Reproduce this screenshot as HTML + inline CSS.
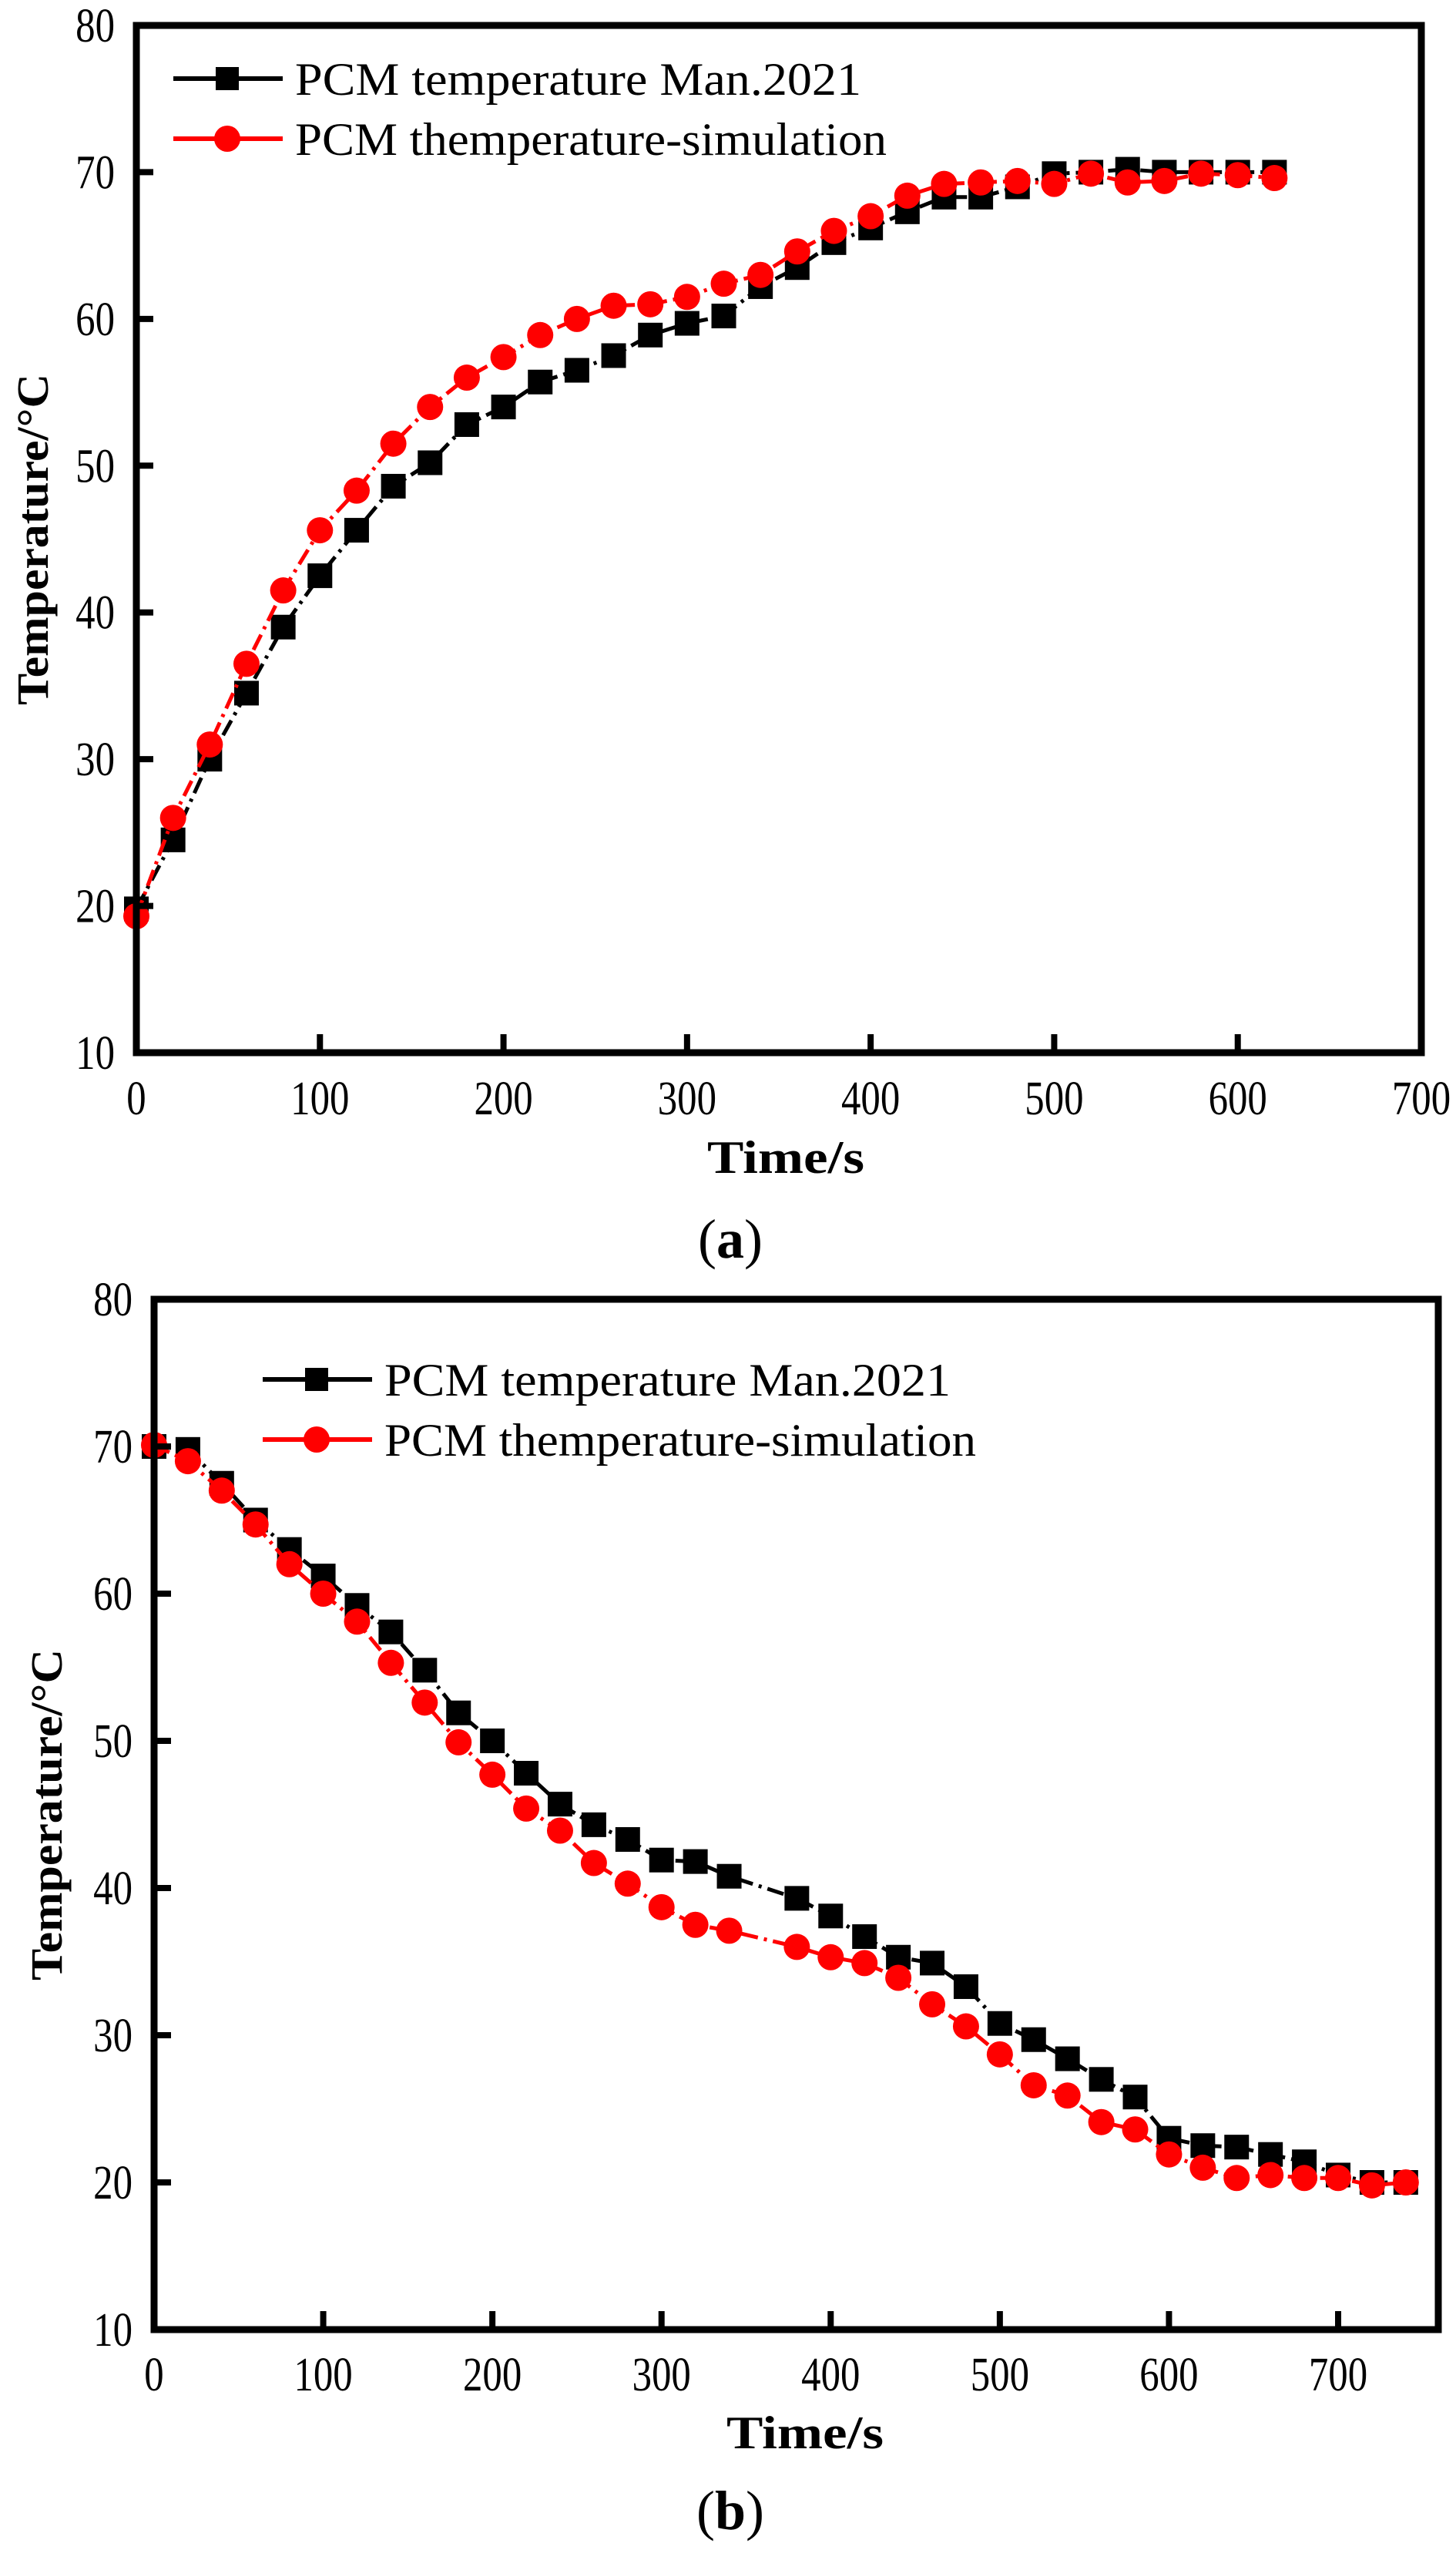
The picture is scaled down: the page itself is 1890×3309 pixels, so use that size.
<!DOCTYPE html>
<html><head><meta charset="utf-8"><style>
html,body{margin:0;padding:0;background:#fff}
svg{display:block}
text{font-family:"Liberation Serif",serif}
</style></head><body>
<svg id="s" width="1890" height="3309" viewBox="0 0 1890 3309"></svg>
<script>
const xsA=[0,20,40,60,80,100,120,140,160,180,200,220,240,260,280,300,320,340,360,380,400,420,440,460,480,500,520,540,560,580,600,620];
const blackA=[19.8,24.5,30,34.5,39,42.5,45.6,48.6,50.2,52.8,54,55.7,56.5,57.5,58.9,59.7,60.2,62.2,63.5,65.2,66.2,67.3,68.3,68.3,69,69.9,70,70.2,70,70,70,70];
const redA=[19.3,26,31,36.5,41.5,45.6,48.3,51.5,54,56,57.4,58.9,60,60.9,61,61.5,62.4,63,64.6,66,67,68.4,69.2,69.3,69.4,69.2,69.9,69.3,69.4,69.9,69.8,69.6];
const xsB=[0,20,40,60,80,100,120,140,160,180,200,220,240,260,280,300,320,340,380,400,420,440,460,480,500,520,540,560,580,600,620,640,660,680,700,720,740];
const blackB=[70,69.8,67.5,65,63,61.2,59.2,57.4,54.8,51.9,50,47.8,45.7,44.3,43.3,41.9,41.8,40.8,39.3,38.1,36.7,35.3,34.9,33.3,30.8,29.7,28.4,27,25.8,23,22.5,22.4,21.9,21.4,20.5,20,20];
const redB=[70.1,69,67,64.7,62,60,58.1,55.3,52.6,49.9,47.7,45.4,43.9,41.7,40.3,38.7,37.5,37.1,36,35.3,34.9,33.9,32.1,30.6,28.7,26.6,25.9,24.1,23.6,21.9,21,20.3,20.5,20.3,20.3,19.8,20];
const yTicks=[10,20,30,40,50,60,70,80];
const xTicks=[0,100,200,300,400,500,600,700];
const legendLabels=["PCM temperature  Man.2021","PCM themperature-simulation"];

const NS="http://www.w3.org/2000/svg";
const svg=document.getElementById('s');
function mk(tag,attrs,parent,txt){const e=document.createElementNS(NS,tag);for(const k in attrs)e.setAttribute(k,attrs[k]);if(txt!==undefined)e.textContent=txt;(parent||svg).appendChild(e);return e;}

function chart(id,cfg){
  const g=mk('g',{});
  
  
  const X=v=>cfg.L+(v-0)/700*(cfg.x700-cfg.L);
  const Y=v=>cfg.B-(v-10)/70*(cfg.B-cfg.T);
  function series(xs,ys,color,shape,nm){
    const sg=mk('g',{},g);
    
    
    const pts=xs.map((x,i)=>X(x)+','+Y(ys[i])).join(' ');
    mk('polyline',{points:pts,fill:'none',stroke:color,'stroke-width':5,'stroke-dasharray':'22,8,4,8'},sg);
    xs.forEach((x,i)=>{
      let m;
      if(shape==='sq') m=mk('rect',{x:X(x)-16,y:Y(ys[i])-16,width:32,height:32,fill:color},sg);
      else m=mk('circle',{cx:X(x),cy:Y(ys[i]),r:17,fill:color},sg);
      
      
    });
  }
  series(cfg.xs,cfg.black,'#000','sq','measured-series');
  series(cfg.xs,cfg.red,'#ff0000','ci','simulation-series');
  const f=mk('rect',{x:cfg.L,y:cfg.T,width:cfg.R-cfg.L,height:cfg.B-cfg.T,fill:'none',stroke:'#000','stroke-width':9},g);
  
  
  yTicks.forEach(t=>{
    mk('line',{x1:cfg.L,x2:cfg.L+22,y1:Y(t),y2:Y(t),stroke:'#000','stroke-width':8},g);
    const tl=mk('text',{x:0,y:0,'text-anchor':'end','font-size':62,transform:`translate(${cfg.L-28},${Y(t)+21}) scale(0.82,1)`},g,String(t));
    
    
  });
  xTicks.forEach(t=>{
    const x=X(t);
    if(t>0&&x<cfg.R-5) mk('line',{x1:x,x2:x,y1:cfg.B,y2:cfg.B-24,stroke:'#000','stroke-width':8},g);
    const tl=mk('text',{x:0,y:0,'text-anchor':'middle','font-size':62,transform:`translate(${x},${cfg.xlabY}) scale(0.82,1)`},g,String(t));
    
    
  });
  const xt=mk('text',{x:cfg.xtX-102,y:cfg.xtY,'font-size':60,'font-weight':'bold',textLength:204,lengthAdjust:'spacingAndGlyphs'},g,'Time/s');
  
  
  const yt=mk('text',{x:-215,y:0,'font-size':58,'font-weight':'bold',textLength:430,lengthAdjust:'spacingAndGlyphs',transform:`translate(${cfg.ytX},${cfg.ytY}) rotate(-90)`},g,'Temperature/°C');
  
  
  const cap=mk('text',{x:948,y:cfg.capY,'text-anchor':'middle','font-size':72},g,'');
  
  
  mk('tspan',{},cap,'(');mk('tspan',{'font-weight':'bold'},cap,cfg.cap);mk('tspan',{},cap,')');
  [['#000','sq'],['#ff0000','ci']].forEach((s,i)=>{
    const lg=mk('g',{},g);
    
    
    const y=cfg.legY[i];
    mk('line',{x1:cfg.legX,x2:cfg.legX+142,y1:y,y2:y,stroke:s[0],'stroke-width':6},lg);
    const mx=cfg.legX+70;
    if(s[1]==='sq') mk('rect',{x:mx-15,y:y-15,width:30,height:30,fill:s[0]},lg);
    else mk('circle',{cx:mx,cy:y,r:17,fill:s[0]},lg);
    mk('text',{x:cfg.legX+158,y:y+21,'font-size':60,textLength:cfg.legW[i],lengthAdjust:'spacingAndGlyphs'},lg,legendLabels[i]);
  });
}
chart('chart-a',{L:177,T:33,R:1845,B:1366,x700:1845,xs:xsA,black:blackA,red:redA,xlabY:1446,xtX:1020,xtY:1522,ytX:62,ytY:700,capY:1632,cap:'a',legX:225,legY:[102,180],legW:[735,768]});
chart('chart-b',{L:200,T:1686,R:1867,B:3023,x700:1737,xs:xsB,black:blackB,red:redB,xlabY:3102,xtX:1045,xtY:3177,ytX:80,ytY:2355,capY:3282,cap:'b',legX:341,legY:[1790,1868],legW:[735,768]});
</script>
</body></html>
